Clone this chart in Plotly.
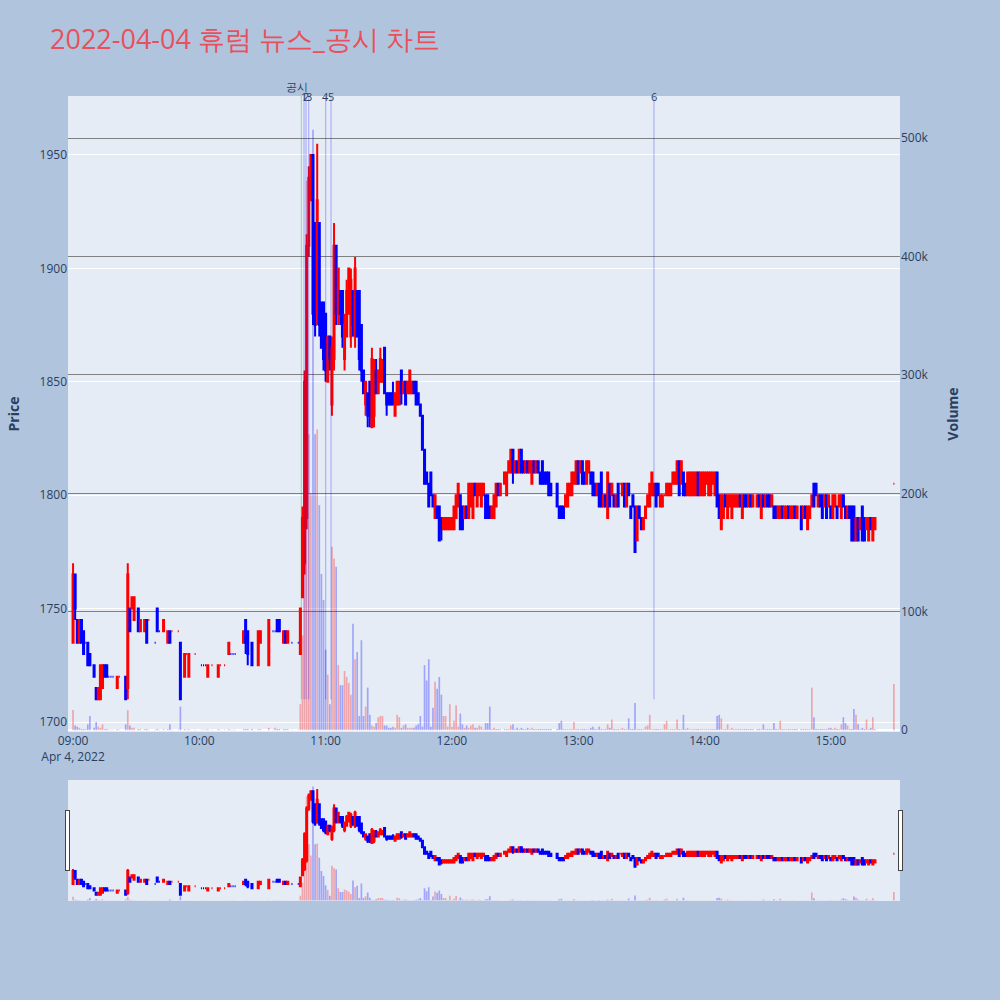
import pandas as pd
import plotly.graph_objects as go
from plotly.subplots import make_subplots

# minute offsets from 09:00 for each candle
minutes = [
    0, 1, 2, 3, 4, 5, 6, 7, 8, 10,
    11, 12, 13, 14, 15, 16, 17, 18, 19, 21,
    22, 25, 26, 27, 28, 29, 31, 32, 34, 35,
    36, 39, 40, 41, 43, 45, 46, 47, 50, 51,
    53, 54, 55, 58, 61, 62, 63, 64, 66, 69,
    70, 72, 74, 75, 76, 77, 81, 82, 83, 85,
    88, 89, 93, 95, 96, 97, 98, 100, 101, 102,
    104, 107, 108,
    109, 110, 111, 112, 113, 114, 115, 116, 117, 118,
    119, 120, 121, 122, 123, 124, 125, 126, 127, 128,
    129, 130, 131, 132, 133, 134, 135, 136, 137, 138,
    139, 140, 141, 142, 143, 144, 145, 146, 147, 148,
    149, 150, 151, 152, 153, 154, 155, 156, 157, 158,
    159, 160, 161, 162, 163, 164, 165, 166, 167, 168,
    169, 170, 171, 172, 173, 174, 175, 176, 177, 178,
    179, 180, 181, 182, 183, 184, 185, 186, 187, 188,
    189, 190, 191, 192, 193, 194, 195, 196, 197, 198,
    199, 200, 201, 202, 203, 205, 206, 207, 208, 209,
    210, 211, 212, 213, 214, 215, 216, 217, 218, 219,
    220, 221, 222, 223, 224, 225, 226, 227, 230, 231,
    232, 233, 234, 235, 236, 237, 238, 239, 240, 241,
    242, 243, 244, 245, 246, 247, 248, 249, 250, 251,
    252, 253, 254, 255, 256, 257, 258, 259, 260, 261,
    262, 263, 264, 265, 266, 267, 268, 269, 270, 271,
    272, 273, 274, 275, 276, 277, 278, 279, 280, 281,
    282, 283, 284, 285, 286, 287, 288, 289, 290, 291,
    292, 293, 294, 295, 296, 297, 298, 299, 300, 301,
    302, 303, 304, 305, 306, 307, 308, 309, 310, 311,
    312, 313, 314, 315, 316, 317, 318, 319, 320, 321,
    322, 323, 325, 326, 327, 328, 329, 330, 331, 332,
    333, 334, 335, 336, 337, 338, 339, 340, 341, 342,
    343, 344, 346, 347, 348, 349, 350, 351, 352, 353,
    354, 355, 356, 357, 358, 359, 360, 361, 362, 363,
    364, 365, 366, 367, 368, 369, 370, 371, 372, 373,
    374, 375, 376, 377, 378, 379, 380, 381, 390,
]

opens = [
    1735, 1765, 1745, 1735, 1745, 1740, 1735, 1735, 1730, 1725,
    1715, 1710, 1710, 1715, 1725, 1725, 1720, 1720, 1720, 1715,
    1720, 1720, 1715, 1750, 1750, 1745, 1750, 1740, 1740, 1745,
    1745, 1735, 1750, 1740, 1740, 1735, 1740, 1740, 1740, 1735,
    1720, 1730, 1720, 1730, 1725, 1725, 1725, 1720, 1725, 1720,
    1725, 1725, 1730, 1730, 1730, 1730, 1735, 1745, 1740, 1735,
    1725, 1735, 1725, 1740, 1740, 1745, 1745, 1735, 1740, 1735,
    1735, 1735, 1730,
    1755, 1770, 1790, 1910, 1930, 1950, 1920, 1880, 1920, 1885,
    1885, 1880, 1850, 1870, 1840, 1860, 1910, 1880, 1890, 1890,
    1860, 1870, 1880, 1870, 1890, 1870, 1890, 1890, 1875, 1855,
    1840, 1845, 1850, 1830, 1835, 1855, 1845, 1850, 1850, 1865,
    1845, 1845, 1845, 1845, 1835, 1840, 1840, 1855, 1845, 1850,
    1845, 1845, 1845, 1850, 1850, 1845, 1840, 1835, 1820, 1810,
    1805, 1810, 1800, 1790, 1795, 1795, 1790, 1785, 1785, 1785,
    1785, 1785, 1785, 1790, 1795, 1800, 1795, 1790, 1795, 1790,
    1795, 1790, 1805, 1795, 1800, 1795, 1800, 1800, 1800, 1795,
    1790, 1790, 1795, 1805, 1800, 1805, 1800, 1810, 1810, 1820,
    1810, 1815, 1810, 1820, 1815, 1810, 1815, 1810, 1805, 1815,
    1810, 1815, 1810, 1815, 1810, 1810, 1810, 1805, 1805, 1795,
    1795, 1795, 1795, 1795, 1800, 1800, 1805, 1805, 1815, 1810,
    1815, 1810, 1805, 1810, 1810, 1810, 1805, 1800, 1805, 1810,
    1795, 1800, 1790, 1805, 1800, 1800, 1795, 1805, 1805, 1800,
    1805, 1795, 1805, 1795, 1800, 1795, 1780, 1795, 1790, 1785,
    1790, 1795, 1795, 1800, 1800, 1805, 1805, 1795, 1795, 1800,
    1800, 1800, 1800, 1805, 1805, 1805, 1815, 1805, 1810, 1805,
    1800, 1800, 1800, 1800, 1800, 1810, 1800, 1800, 1800, 1805,
    1800, 1800, 1805, 1800, 1810, 1800, 1785, 1790, 1800, 1790,
    1795, 1790, 1795, 1795, 1795, 1800, 1790, 1800, 1800, 1795,
    1800, 1795, 1795, 1800, 1790, 1800, 1795, 1800, 1800, 1795,
    1795, 1795, 1790, 1790, 1795, 1790, 1790, 1795, 1790, 1790,
    1795, 1790, 1795, 1790, 1795, 1785, 1790, 1795, 1805, 1805,
    1795, 1800, 1800, 1795, 1800, 1795, 1795, 1790, 1795, 1795,
    1795, 1790, 1800, 1795, 1790, 1795, 1795, 1795, 1780, 1790,
    1785, 1795, 1790, 1785, 1780, 1790, 1780, 1785, 1805,
]

highs = [
    1770, 1765, 1745, 1745, 1745, 1740, 1735, 1735, 1730, 1725,
    1715, 1715, 1725, 1725, 1725, 1725, 1720, 1720, 1720, 1720,
    1720, 1720, 1770, 1750, 1755, 1755, 1750, 1745, 1745, 1745,
    1745, 1735, 1750, 1740, 1745, 1740, 1740, 1740, 1740, 1735,
    1730, 1730, 1730, 1730, 1725, 1725, 1725, 1725, 1725, 1725,
    1725, 1725, 1735, 1730, 1730, 1730, 1740, 1745, 1740, 1735,
    1740, 1740, 1745, 1740, 1740, 1745, 1745, 1740, 1740, 1740,
    1735, 1735, 1750,
    1795, 1855, 1915, 1945, 1950, 1950, 1920, 1955, 1920, 1885,
    1885, 1880, 1870, 1870, 1870, 1920, 1910, 1900, 1890, 1890,
    1880, 1895, 1900, 1900, 1890, 1905, 1890, 1890, 1875, 1855,
    1850, 1845, 1850, 1865, 1860, 1860, 1855, 1865, 1860, 1865,
    1845, 1845, 1845, 1850, 1845, 1850, 1850, 1855, 1850, 1850,
    1850, 1855, 1850, 1850, 1850, 1845, 1840, 1835, 1820, 1810,
    1805, 1810, 1800, 1800, 1795, 1795, 1790, 1790, 1790, 1790,
    1790, 1790, 1795, 1800, 1805, 1800, 1795, 1795, 1795, 1805,
    1805, 1805, 1805, 1805, 1805, 1805, 1805, 1800, 1800, 1795,
    1795, 1800, 1805, 1805, 1805, 1810, 1810, 1815, 1820, 1820,
    1815, 1815, 1820, 1820, 1815, 1815, 1815, 1815, 1815, 1815,
    1815, 1815, 1810, 1815, 1810, 1810, 1810, 1805, 1805, 1795,
    1795, 1795, 1800, 1805, 1805, 1810, 1810, 1815, 1815, 1815,
    1815, 1810, 1815, 1815, 1810, 1810, 1805, 1805, 1805, 1810,
    1800, 1800, 1810, 1805, 1805, 1800, 1800, 1805, 1805, 1805,
    1805, 1805, 1805, 1795, 1800, 1795, 1795, 1795, 1790, 1790,
    1795, 1800, 1805, 1810, 1805, 1805, 1805, 1800, 1800, 1800,
    1805, 1805, 1805, 1810, 1810, 1815, 1815, 1815, 1810, 1805,
    1810, 1810, 1810, 1810, 1810, 1810, 1810, 1810, 1810, 1810,
    1810, 1810, 1810, 1810, 1810, 1800, 1800, 1800, 1800, 1800,
    1800, 1800, 1800, 1800, 1800, 1800, 1800, 1800, 1800, 1800,
    1800, 1800, 1800, 1800, 1800, 1800, 1800, 1800, 1800, 1800,
    1795, 1795, 1795, 1795, 1795, 1795, 1795, 1795, 1795, 1795,
    1795, 1795, 1795, 1795, 1795, 1795, 1795, 1800, 1805, 1805,
    1800, 1800, 1800, 1800, 1800, 1800, 1795, 1800, 1800, 1795,
    1800, 1800, 1800, 1795, 1795, 1795, 1795, 1795, 1790, 1790,
    1790, 1795, 1790, 1790, 1790, 1790, 1790, 1790, 1805,
]

lows = [
    1735, 1745, 1735, 1735, 1735, 1730, 1735, 1725, 1725, 1720,
    1710, 1710, 1710, 1715, 1720, 1720, 1720, 1720, 1720, 1715,
    1720, 1710, 1710, 1740, 1750, 1745, 1740, 1740, 1740, 1735,
    1745, 1735, 1740, 1740, 1740, 1735, 1735, 1740, 1740, 1710,
    1720, 1730, 1720, 1730, 1725, 1725, 1725, 1720, 1725, 1720,
    1725, 1725, 1730, 1730, 1730, 1730, 1735, 1730, 1725, 1725,
    1725, 1735, 1725, 1740, 1740, 1740, 1740, 1735, 1735, 1735,
    1735, 1735, 1730,
    1755, 1765, 1785, 1905, 1930, 1875, 1870, 1875, 1870, 1865,
    1855, 1850, 1850, 1855, 1835, 1855, 1875, 1875, 1875, 1865,
    1855, 1870, 1880, 1865, 1870, 1865, 1870, 1855, 1850, 1845,
    1835, 1830, 1830, 1830, 1830, 1845, 1845, 1850, 1850, 1845,
    1835, 1840, 1840, 1840, 1835, 1840, 1840, 1840, 1845, 1840,
    1845, 1845, 1845, 1845, 1840, 1840, 1835, 1820, 1805, 1805,
    1795, 1800, 1795, 1790, 1790, 1780, 1780, 1785, 1785, 1785,
    1785, 1785, 1785, 1790, 1795, 1785, 1785, 1790, 1790, 1790,
    1795, 1790, 1800, 1795, 1800, 1795, 1800, 1790, 1790, 1790,
    1790, 1790, 1795, 1800, 1800, 1805, 1800, 1810, 1810, 1805,
    1810, 1810, 1810, 1810, 1810, 1810, 1810, 1810, 1805, 1810,
    1810, 1810, 1805, 1805, 1805, 1805, 1800, 1800, 1795, 1790,
    1790, 1790, 1795, 1795, 1800, 1800, 1805, 1805, 1805, 1810,
    1805, 1805, 1805, 1810, 1805, 1800, 1800, 1800, 1795, 1795,
    1795, 1795, 1790, 1795, 1800, 1795, 1795, 1795, 1805, 1800,
    1795, 1795, 1800, 1790, 1795, 1775, 1780, 1790, 1785, 1785,
    1790, 1795, 1795, 1800, 1800, 1795, 1800, 1795, 1795, 1800,
    1800, 1800, 1800, 1805, 1805, 1805, 1800, 1805, 1800, 1800,
    1800, 1800, 1800, 1800, 1800, 1800, 1800, 1800, 1800, 1805,
    1800, 1800, 1805, 1800, 1795, 1790, 1785, 1790, 1795, 1790,
    1795, 1790, 1795, 1795, 1795, 1795, 1790, 1795, 1795, 1795,
    1795, 1795, 1795, 1795, 1790, 1795, 1795, 1795, 1795, 1795,
    1790, 1790, 1790, 1790, 1790, 1790, 1790, 1790, 1790, 1790,
    1790, 1790, 1785, 1790, 1790, 1785, 1790, 1795, 1795, 1800,
    1795, 1795, 1790, 1795, 1790, 1795, 1790, 1790, 1795, 1790,
    1795, 1790, 1795, 1790, 1790, 1790, 1780, 1780, 1780, 1780,
    1785, 1780, 1780, 1785, 1780, 1785, 1780, 1785, 1805,
]

closes = [
    1765, 1750, 1735, 1745, 1735, 1730, 1735, 1725, 1725, 1720,
    1710, 1715, 1725, 1725, 1720, 1720, 1720, 1720, 1720, 1720,
    1720, 1710, 1765, 1740, 1755, 1755, 1740, 1745, 1745, 1735,
    1745, 1735, 1740, 1740, 1745, 1740, 1735, 1740, 1740, 1710,
    1730, 1730, 1730, 1730, 1725, 1725, 1725, 1725, 1725, 1725,
    1725, 1725, 1735, 1730, 1730, 1730, 1740, 1735, 1730, 1725,
    1740, 1740, 1745, 1740, 1740, 1740, 1740, 1740, 1735, 1740,
    1735, 1735, 1750,
    1790, 1850, 1910, 1940, 1950, 1880, 1875, 1930, 1875, 1865,
    1860, 1855, 1870, 1860, 1865, 1910, 1880, 1900, 1880, 1870,
    1875, 1890, 1900, 1895, 1875, 1900, 1870, 1860, 1855, 1845,
    1850, 1835, 1835, 1860, 1855, 1845, 1855, 1860, 1855, 1845,
    1840, 1840, 1840, 1840, 1845, 1850, 1850, 1845, 1850, 1840,
    1850, 1855, 1850, 1845, 1840, 1840, 1835, 1820, 1805, 1805,
    1795, 1800, 1795, 1800, 1790, 1780, 1785, 1790, 1790, 1790,
    1790, 1790, 1795, 1800, 1805, 1785, 1785, 1795, 1790, 1805,
    1805, 1805, 1800, 1805, 1805, 1805, 1805, 1790, 1790, 1790,
    1795, 1800, 1805, 1800, 1805, 1810, 1810, 1815, 1820, 1810,
    1815, 1810, 1820, 1810, 1810, 1815, 1810, 1815, 1815, 1810,
    1815, 1810, 1805, 1805, 1805, 1805, 1800, 1800, 1795, 1790,
    1790, 1790, 1800, 1805, 1805, 1810, 1810, 1815, 1805, 1815,
    1805, 1805, 1815, 1815, 1805, 1800, 1800, 1805, 1795, 1795,
    1800, 1795, 1810, 1795, 1805, 1795, 1800, 1795, 1805, 1805,
    1795, 1805, 1800, 1790, 1795, 1775, 1795, 1790, 1785, 1790,
    1795, 1800, 1805, 1810, 1805, 1795, 1800, 1800, 1800, 1800,
    1805, 1805, 1805, 1810, 1810, 1815, 1800, 1815, 1800, 1800,
    1810, 1810, 1810, 1810, 1810, 1800, 1810, 1810, 1810, 1810,
    1810, 1810, 1810, 1810, 1795, 1790, 1800, 1800, 1795, 1800,
    1800, 1800, 1800, 1800, 1800, 1795, 1800, 1795, 1795, 1800,
    1795, 1800, 1800, 1795, 1800, 1795, 1800, 1795, 1795, 1800,
    1790, 1790, 1795, 1795, 1790, 1795, 1795, 1790, 1795, 1795,
    1790, 1795, 1785, 1795, 1790, 1795, 1795, 1800, 1795, 1800,
    1800, 1795, 1790, 1800, 1790, 1800, 1790, 1800, 1800, 1790,
    1800, 1800, 1795, 1790, 1795, 1790, 1780, 1780, 1790, 1780,
    1790, 1780, 1780, 1790, 1790, 1785, 1790, 1790, 1805,
]

volumes = [
    17000, 4000, 3000, 2000, 1000, 1000, 1000, 5000, 12000, 2000,
    7000, 3000, 2000, 5000, 1000, 1000, 500, 500, 500, 1000,
    500, 5000, 17000, 4000, 2000, 2000, 1000, 1000, 1000, 1000,
    500, 500, 1000, 500, 1000, 1000, 5000, 500, 500, 20000,
    1000, 500, 1000, 500, 500, 500, 500, 1000, 500, 1000,
    500, 500, 1000, 500, 500, 500, 1000, 1000, 1000, 1000,
    1000, 1000, 2000, 500, 2000, 1000, 1000, 1000, 1000, 1000,
    500, 500, 22000,
    80000, 190000, 464000, 250000, 200000, 507000, 250000, 254000, 190000, 132000,
    110000, 68000, 47000, 22000, 155000, 145000, 138000, 55000, 38000, 38000,
    50000, 45000, 40000, 30000, 90000, 60000, 66000, 12000, 76000, 12000,
    20000, 36000, 13000, 4000, 3000, 6000, 11000, 12000, 12000, 4000,
    4000, 2000, 2000, 3000, 2000, 13000, 11000, 2000, 4000, 5000,
    2000, 2000, 2000, 2000, 4000, 5000, 12000, 3000, 55000, 42000,
    60000, 3000, 19000, 41000, 35000, 45000, 30000, 12000, 12000, 3000,
    22000, 3000, 8000, 21000, 3000, 14000, 5000, 2000, 4000, 2000,
    4000, 5000, 2000, 2000, 4000, 3000, 1000, 6000, 6000, 20000,
    1000, 2000, 1000, 1000, 1000, 1000, 1000, 1000, 4000, 5000,
    1000, 2000, 1000, 2000, 1000, 1000, 2000, 1000, 2000, 1000,
    1000, 1000, 1000, 1000, 1000, 1000, 1000, 1000, 1000, 6000,
    8000, 1000, 1000, 1000, 1000, 1000, 7000, 1000, 1000, 1000,
    1000, 1000, 1000, 1000, 2000, 3000, 1000, 1000, 3000, 1000,
    1000, 1000, 5000, 2000, 9000, 1000, 1000, 1000, 1000, 2000,
    1000, 1000, 10000, 1000, 1000, 23000, 1000, 1000, 1000, 1000,
    3000, 4000, 13000, 1000, 1000, 1000, 1000, 1000, 1000, 5000,
    8000, 1000, 1000, 1000, 1000, 9000, 1000, 1000, 13000, 1000,
    2000, 1000, 1000, 1000, 1000, 1000, 1000, 1000, 1000, 1000,
    1000, 1000, 1000, 1000, 12000, 13000, 10000, 1000, 1000, 5000,
    1000, 2000, 1000, 1000, 1000, 1000, 1000, 1000, 1000, 1000,
    1000, 1000, 1000, 1000, 1000, 5000, 1000, 1000, 1000, 1000,
    6000, 1000, 1000, 8000, 1000, 1000, 1000, 1000, 1000, 1000,
    1000, 1000, 1000, 1000, 1000, 1000, 1000, 36000, 11000, 1000,
    1000, 1000, 1000, 1000, 1000, 2000, 2000, 1000, 2000, 1000,
    1000, 5000, 11000, 6000, 4000, 1000, 1000, 18000, 13000, 5000,
    1000, 2000, 1000, 9000, 1000, 2000, 11000, 1000, 39000,
]

news_labels = ["공시", "1", "2", "3", "4", "5", "6"]
news_times = ["10:48:27", "10:49:44", "10:50:41", "10:52:00",
              "11:00:03", "11:02:34", "13:36:00"]
news_colors = ["rgba(0,128,0,0.3)"] + ["rgba(0,0,255,0.3)"] * 6

assert len(minutes) == len(opens) == len(highs) == len(lows) == len(closes) == len(volumes)

base = pd.Timestamp("2022-04-04 09:00:00")
times = [base + pd.Timedelta(minutes=m) for m in minutes]
vol_colors = ["rgba(255,0,0,0.3)" if c >= o else "rgba(0,0,255,0.3)"
              for o, c in zip(opens, closes)]

fig = make_subplots(specs=[[{"secondary_y": True}]])
fig.add_trace(go.Candlestick(
    x=times, open=opens, high=highs, low=lows, close=closes,
    increasing=dict(line=dict(color="red"), fillcolor="red"),
    decreasing=dict(line=dict(color="blue"), fillcolor="blue"),
    name="Price"), secondary_y=False)
fig.add_trace(go.Bar(x=times, y=volumes, marker=dict(color=vol_colors, line=dict(width=0)),
                     name="Volume"), secondary_y=True)

y_lo, y_hi = 1695.6, 1976
for lab, t, col in zip(news_labels, news_times, news_colors):
    ts = "2022-04-04 " + t
    fig.add_shape(type="line", xref="x", yref="y", x0=ts, x1=ts, y0=1710, y1=y_hi,
                  line=dict(color=col, width=1))
    if lab == "공시":
        fig.add_annotation(x=ts, y=y_hi, xref="x", yref="y", text=lab, showarrow=False,
                           yanchor="bottom", xshift=-4, font=dict(size=11, color="#2a3f5f"))
    else:
        fig.add_annotation(x=ts, y=y_hi, xref="x", yref="y", text=lab, showarrow=False,
                           yanchor="middle", font=dict(size=11, color="#2a3f5f"))

xr = ["2022-04-04 08:57:36", "2022-04-04 15:32:54"]
fig.update_layout(
    width=1000, height=1000,
    paper_bgcolor="lightsteelblue",
    title=dict(text="2022-04-04 휴럼 뉴스_공시 차트", x=0.05, xanchor="left",
               y=0.96, yanchor="middle", font=dict(size=27, color="#e8505b")),
    margin=dict(l=68, r=100, t=96, b=100),
    showlegend=False,
    xaxis=dict(domain=[0, 1], range=xr, showgrid=False, dtick=3600000,
               rangeslider=dict(visible=True, range=xr)),
)
fig.update_yaxes(title_text="<b>Price</b>", title_standoff=16, range=[y_lo, y_hi], dtick=50,
                 secondary_y=False)
fig.update_yaxes(title_text="<b>Volume</b>", title_standoff=20, range=[-1500, 535600],
                 gridcolor="gray", secondary_y=True)

fig.write_html("out.html", config={"displayModeBar": False},
               post_script="document.body.style.margin='0px';")
